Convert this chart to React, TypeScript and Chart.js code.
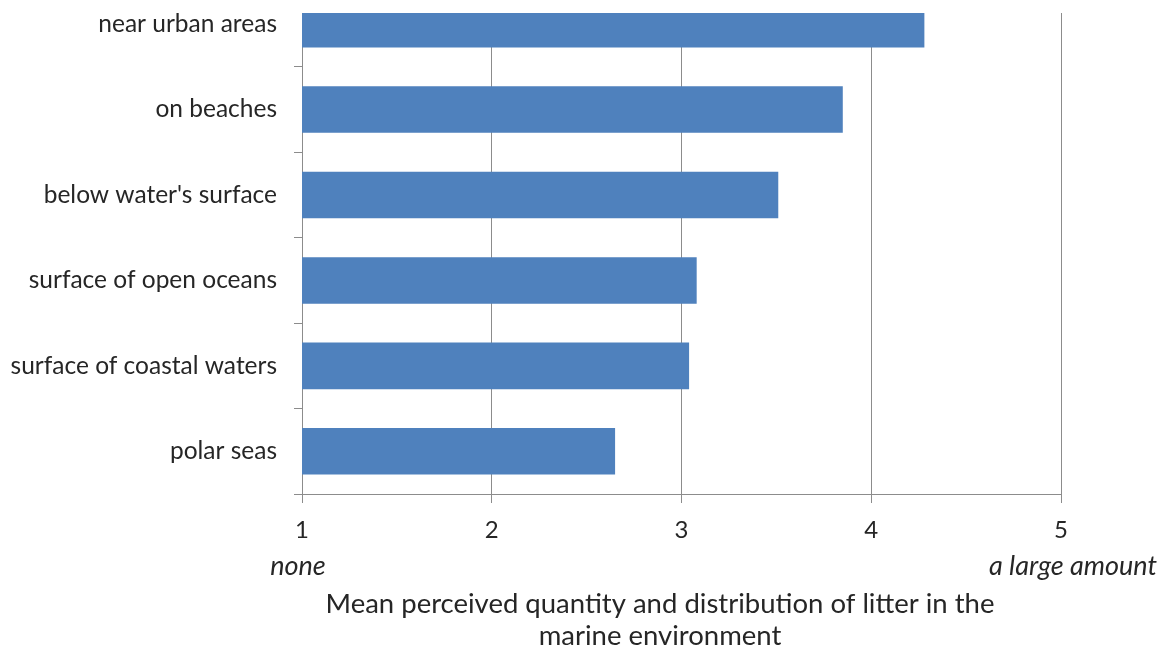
import React, { useEffect, useRef } from "react";
import { Chart, registerables } from "chart.js";

Chart.register(...registerables);

const categories = [
  "near urban areas",
  "on beaches",
  "below water's surface",
  "surface of open oceans",
  "surface of coastal waters",
  "polar seas",
];
const meanValues = [4.28, 3.85, 3.51, 3.08, 3.04, 2.65];
const xTickValues = [1, 2, 3, 4, 5];
const lowLabel = "none";
const highLabel = "a large amount";
const axisTitleLines = [
  "Mean perceived quantity and distribution of litter in the",
  "marine environment",
];

const FONT = "Lato, 'Open Sans', sans-serif";
const TEXT = "#262626";
const GRID = "#8c8c8c";

export default function App() {
  const ref = useRef<HTMLCanvasElement>(null);

  useEffect(() => {
    if (!ref.current) return;
    const annot = {
      id: "annot",
      afterDraw(chart: any) {
        const { ctx, chartArea, scales } = chart;
        const x = scales.x;
        ctx.save();
        ctx.fillStyle = TEXT;
        ctx.textBaseline = "middle";
        ctx.textAlign = "center";
        ctx.font = `italic 27px ${FONT}`;
        ctx.fillText(lowLabel, x.getPixelForValue(xTickValues[0]) - 4, chartArea.bottom + 72);
        ctx.fillText(highLabel, x.getPixelForValue(xTickValues[xTickValues.length - 1]) + 12, chartArea.bottom + 72);
        ctx.font = `27.5px ${FONT}`;
        axisTitleLines.forEach((line, i) => {
          ctx.fillText(line, 660, chartArea.bottom + 110 + i * 32);
        });
        ctx.restore();
      },
    };
    const chart = new Chart(ref.current, {
      type: "bar",
      data: {
        datasets: [
          {
            data: meanValues.map((v, i) => ({ x: v, y: i })),
            backgroundColor: "#4F81BD",
            borderWidth: 0,
            categoryPercentage: 1,
            barPercentage: 0.545,
          },
        ],
      },
      options: {
        indexAxis: "y",
        animation: false,
        responsive: false,
        layout: { padding: { left: 0, right: 99, top: 13, bottom: 0 } },
        plugins: { legend: { display: false }, tooltip: { enabled: false } },
        scales: {
          x: {
            type: "linear",
            min: 1,
            max: 5,
            offset: false,
            ticks: {
              stepSize: 1,
              color: TEXT,
              font: { family: FONT, size: 24 },
              padding: 13,
            },
            grid: { color: GRID, tickLength: 9, drawOnChartArea: true },
            border: { color: GRID },
            afterFit(s: any) {
              s.height = 156;
              s.paddingLeft = 0;
              s.paddingRight = 0;
            },
          },
          y: {
            type: "linear",
            reverse: true,
            offset: false,
            min: -0.13,
            max: 5.5,
            bounds: "data",
            afterBuildTicks(s: any) {
              s.ticks = categories.map((_, i) => ({ value: i }));
            },
            ticks: {
              autoSkip: false,
              color: TEXT,
              font: { family: FONT, size: 24.5 },
              padding: 17,
              callback: (v: any) => categories[v as number] ?? "",
            },
            grid: { offset: true, drawOnChartArea: false, tickLength: 8, color: GRID },
            border: { color: GRID },
            afterFit(s: any) {
              s.width = 302;
              s.paddingTop = 0;
              s.paddingBottom = 0;
            },
          },
        },
      },
      plugins: [annot],
    } as any);
    return () => chart.destroy();
  }, []);

  return (
    <div style={{ position: "absolute", left: 0, top: 0, width: 1160, height: 650, background: "#fff" }}>
      <canvas ref={ref} width={1160} height={650} />
    </div>
  );
}
